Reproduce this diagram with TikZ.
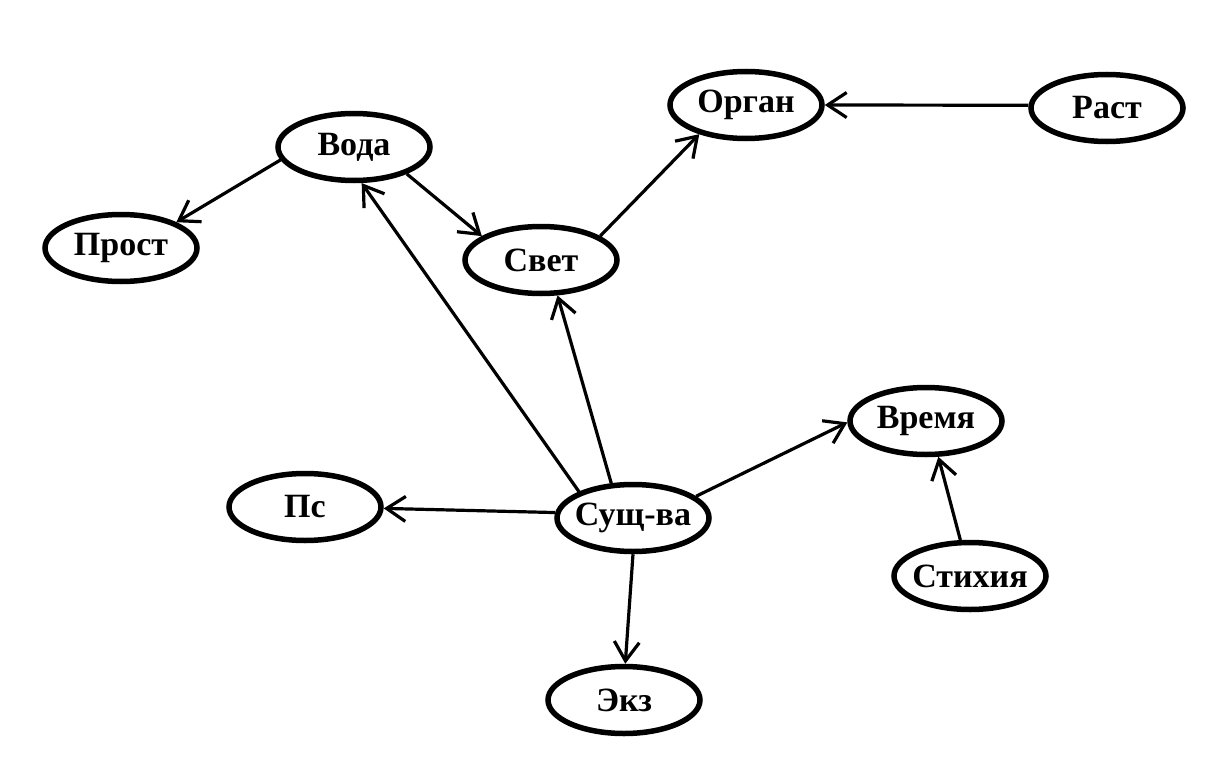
\documentclass[tikz,border=0pt]{standalone}
\usepackage{fontspec}
\setmainfont{Liberation Serif}
\usetikzlibrary{shapes.geometric,arrows.meta}
\newcommand{\conceptlabel}[1]{\makebox[0pt][c]{#1}}
\begin{document}
\begin{tikzpicture}[x=1pt,y=-1pt,
  concept/.style={ellipse,draw=black,line width=5.5pt,minimum width=152pt,minimum height=67pt,inner sep=0pt,
    font=\fontsize{34}{34}\selectfont\bfseries},
  link/.style={line width=3.2pt,-{Straight Barb[length=19pt,width=25pt,line width=3.2pt]}}]
\fill[white] (0,0) rectangle (1224,760);
\useasboundingbox (0,0) rectangle (1224,760);
\node[concept] (voda) at (354,147) {\conceptlabel{Вода}};
\node[concept] (prost) at (121,248) {\conceptlabel{Прост}};
\node[concept] (svet) at (541,260) {\conceptlabel{Свет}};
\node[concept] (organ) at (746,105) {\conceptlabel{Орган}};
\node[concept] (rast) at (1107,108) {\conceptlabel{Раст}};
\node[concept] (ps) at (305,507) {\conceptlabel{Пс}};
\node[concept] (sush) at (633,518) {\conceptlabel{Сущ-ва}};
\node[concept] (vremya) at (926,421) {\conceptlabel{Время}};
\node[concept] (stih) at (970,576) {\conceptlabel{Стихия}};
\node[concept] (ekz) at (624,700) {\conceptlabel{Экз}};
\draw[link] (voda.190) -- (prost.25);
\draw[link] (voda.-27) -- (svet.158);
\draw[link] (svet.22) -- (organ.212);
\draw[link] (rast.178) -- (organ.0);
\draw[link] (sush.154) -- (voda.-78);
\draw[link] (sush.122) -- (svet.-65);
\draw[link] (sush.176) -- (ps.-1);
\draw[link] (sush.19) -- (vremya.181);
\draw[link] (stih.105) -- (vremya.-71);
\draw[link] (sush.-90) -- (ekz.88);
\end{tikzpicture}
\end{document}
